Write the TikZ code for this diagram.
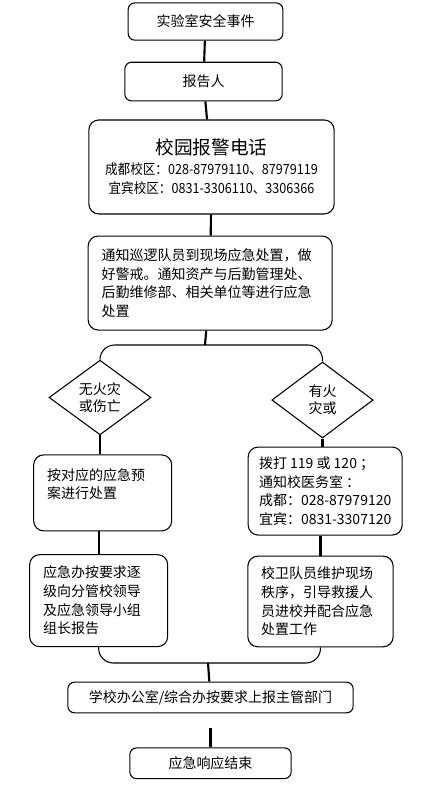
\documentclass[tikz,border=0pt]{standalone}
\usepackage{fontspec}
\setmainfont{Noto Sans CJK SC}
\usetikzlibrary{positioning, shapes.geometric}
\tikzset{box/.style={rectangle,draw,rounded corners=5pt,align=center,inner sep=3pt,line width=0.8pt,font=\fontsize{10.5}{14}\selectfont},
  tbox/.style={box,rounded corners=7.5pt,align=left,inner xsep=10pt},
  choice/.style={diamond,draw,aspect=1.36,inner sep=0pt,line width=0.8pt,align=center,font=\fontsize{10.5}{13}\selectfont},
  line/.style={line width=1.6pt},
  bracket/.style={line width=0.8pt,rounded corners=11pt}}
\newcommand{\narrow}[1]{\scalebox{0.9}[1]{#1}}

\begin{document}
\begin{tikzpicture}[x=0.75pt,y=-0.75pt,node distance=15pt]
\useasboundingbox (0,0) rectangle (448,794);
\node[box, minimum width=116pt, minimum height=28pt] (event) at (205.5,21.5) {实验室安全事件};
\node[box, minimum width=118pt, minimum height=29pt, below=15.75pt of event, xshift=-1.5pt] (reporter) {报告人};
\node[tbox, align=center, minimum width=184pt, minimum height=70.5pt, below=13.5pt of reporter, xshift=6pt] (hotline)
  {{\fontsize{14}{16}\selectfont 校园报警电话}\\[1pt]
   \narrow{成都校区：028-87979110、87979119}\\
   \narrow{宜宾校区：0831-3306110、3306366}};
\node[tbox, text width=163pt, minimum height=70.5pt, below=15.75pt of hotline, xshift=-1pt] (notify)
  {通知巡逻队员到现场应急处置，做\\好警戒。通知资产与后勤管理处、\\后勤维修部、相关单位等进行应急\\处置};
\coordinate (split) at (205,345);
% two branches
\node[choice, minimum width=76.5pt, minimum height=56pt] (nofire) at (100,397.5) {无火灾\\或伤亡};
\node[choice, minimum width=76pt, minimum height=57pt] (fire) at (322.5,400) {有火\\灾或};
\node[tbox, text width=83.5pt, minimum height=57pt, below=14.25pt of nofire, xshift=2pt] (plan)
  {按对应的应急预\\案进行处置\\\mbox{}};
\node[tbox, inner xsep=7pt, minimum width=115.5pt, minimum height=66pt, below=6pt of fire, xshift=2pt] (call)
  {拨打 119 或 120 ；\\通知校医务室 ：\\成都：028-87979120\\宜宾：0831-3307120};
\node[tbox, text width=83.5pt, minimum height=69pt, below=17pt of plan, xshift=-3pt] (leader)
  {应急办按要求逐\\级向分管校领导\\及应急领导小组\\组长报告};
\node[tbox, text width=89pt, minimum height=68pt, below=15pt of call, xshift=-3.5pt] (guard)
  {校卫队员维护现场\\秩序，引导救援人\\员进校并配合应急\\处置工作};
\coordinate (join) at (208,663);
\node[box, minimum width=214pt, minimum height=23pt] (office) at (210.5,697.5) {学校办公室/综合办按要求上报主管部门};
\node[box, minimum width=121pt, minimum height=23pt, below=25.5pt of office] (finish) {应急响应结束};
\draw[line] (event) -- (reporter);
\draw[line] (reporter) -- (hotline);
\draw[line] (hotline) -- (notify);
\draw[line] (notify) -- (split);
\draw[bracket] (nofire.north) |- (split) -| (fire.north);
\draw[line] (nofire.south) -- (nofire.south |- plan.north);
\draw[line] (fire.south) -- (fire.south |- call.north);
\draw[line] (plan.south -| leader.north) -- (leader.north);
\draw[line] (call.south -| guard.north) -- (guard.north);
\draw[bracket] (leader.south) |- (join) -| (guard.south);
\draw[line] (join) -- (office);
\draw[line, shorten <=11pt] (office) -- (finish);
\end{tikzpicture}
\end{document}
